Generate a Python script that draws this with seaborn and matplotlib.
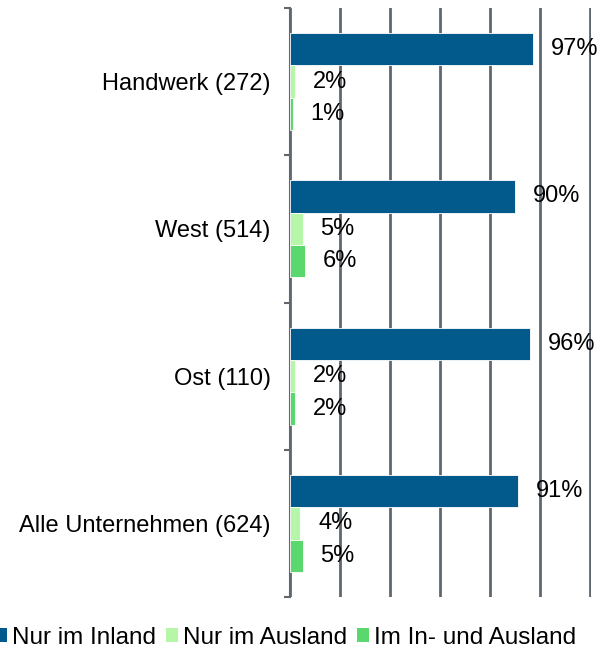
import matplotlib
matplotlib.use("Agg")
import matplotlib.pyplot as plt
import seaborn as sns
import pandas as pd
from matplotlib.patches import Patch

categories = ["Handwerk (272)", "West (514)", "Ost (110)", "Alle Unternehmen (624)"]
series = ["Nur im Inland", "Nur im Ausland", "Im In- und Ausland"]
nur_inland = [97, 90, 96, 91]
nur_ausland = [2, 5, 2, 4]
in_und_ausland = [1, 6, 2, 5]
colors = ["#02598B", "#B6F6A8", "#5AD86E"]

sns.set_theme(style="white")
plt.rcParams["font.family"] = ["Liberation Sans", "DejaVu Sans"]
plt.rcParams["text.color"] = "black"

rows = []
for s, vals in zip(series, [nur_inland, nur_ausland, in_und_ausland]):
    for c, v in zip(categories, vals):
        rows.append({"cat": c, "series": s, "value": v})
df = pd.DataFrame(rows)

W, H = 607, 653
fig = plt.figure(figsize=(W / 100, H / 100), dpi=100)
ax = fig.add_axes([290 / W, 1 - 597 / H, 300.5 / W, (597 - 8) / H])

sns.barplot(data=df, y="cat", x="value", hue="series", order=categories,
            hue_order=series, palette=colors, orient="h", width=0.66,
            saturation=1, legend=False, ax=ax, zorder=3, linewidth=0.6,
            edgecolor="white")

for cont, vals in zip(ax.containers, [nur_inland, nur_ausland, in_und_ausland]):
    ax.bar_label(cont, labels=[f"{v}%" for v in vals], padding=13,
                 fontsize=17, color="black", zorder=5)

ax.set_xlim(0, 120.2)
ax.set_ylim(3.5, -0.5)
ax.set_xticks([0, 20, 40, 60, 80, 100, 120])
ax.set_xticklabels([])
ax.tick_params(axis="x", length=0)
ax.xaxis.grid(True, color="#5F6770", linewidth=2)
ax.set_axisbelow(True)
ax.set_xlabel("")
ax.set_ylabel("")

ax.set_yticks(range(len(categories)))
ax.set_yticklabels(categories, fontsize=17, color="black")
ax.tick_params(axis="y", which="major", length=0, pad=14)
ax.set_yticks([-0.5, 0.5, 1.5, 2.5, 3.5], minor=True)
ax.tick_params(axis="y", which="minor", length=4, width=1.5, color="#5F6770",
               direction="out", left=True)

for side in ["top", "right", "bottom"]:
    ax.spines[side].set_visible(False)
ax.spines["left"].set_color("#5F6770")
ax.spines["left"].set_linewidth(1.5)

handles = [Patch(facecolor=c, edgecolor="none", label=s) for c, s in zip(colors, series)]
fig.legend(handles=handles, loc="center left", bbox_to_anchor=(-5 / W, 1 - 638 / H),
           ncol=3, frameon=False, fontsize=17.5, handlelength=0.5,
           handleheight=0.5, handletextpad=0.2, columnspacing=0.4,
           borderpad=0, borderaxespad=0, labelcolor="black")

fig.savefig("out.png", dpi=100)
